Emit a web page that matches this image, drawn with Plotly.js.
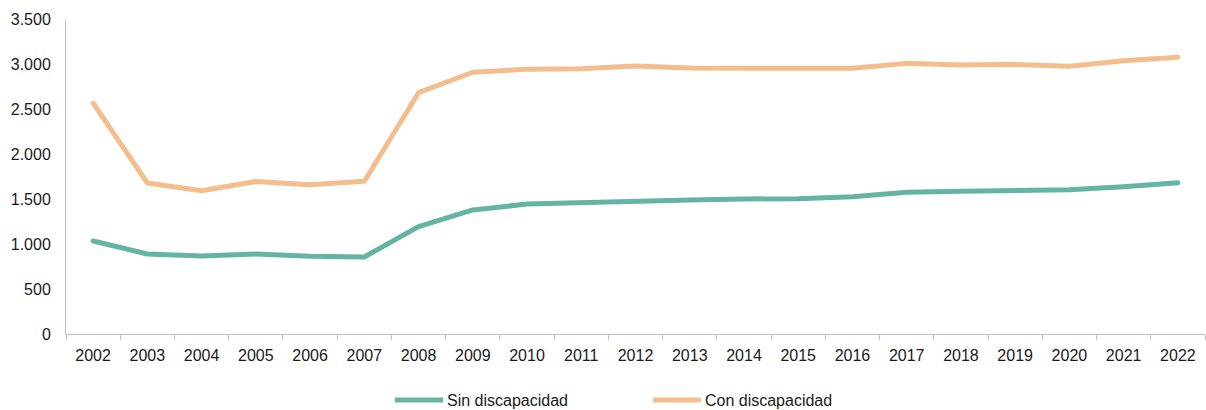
<!DOCTYPE html>
<html>
<head>
<meta charset="utf-8">
<script src="https://cdn.plot.ly/plotly-3.0.1.min.js"></script>
<style>html,body{margin:0;padding:0;background:#fff}#chart{width:1206px;height:410px}
#chart .scatterlayer .js-line{stroke-linecap:round;stroke-linejoin:round}
#chart .legend .legendlines path{transform:scaleX(1.6)}
#chart .legend .legendtext{transform:translateX(20px)}</style>
</head>
<body>
<div id="chart"></div>
<script>
const years = ["2002","2003","2004","2005","2006","2007","2008","2009","2010","2011","2012","2013","2014","2015","2016","2017","2018","2019","2020","2021","2022"];
const sinDiscapacidad = [1033,889,867,889,863,856,1193,1378,1444,1463,1481,1489,1500,1504,1526,1574,1585,1596,1604,1637,1681];
const conDiscapacidad = [2565,1678,1592,1694,1659,1697,2681,2908,2941,2948,2978,2956,2952,2952,2952,3007,2989,2996,2974,3037,3074];
const yTicks = [0,500,1000,1500,2000,2500,3000,3500];

const font = {family: "Liberation Sans, Arial, sans-serif", size: 16, color: "#1a1a1a"};
const traces = [
  {x: years, y: sinDiscapacidad, name: "Sin discapacidad", type: "scatter", mode: "lines",
   line: {color: "#64B4A4", width: 5}},
  {x: years, y: conDiscapacidad, name: "Con discapacidad", type: "scatter", mode: "lines",
   line: {color: "#F4BD8C", width: 5}}
];
const layout = {
  width: 1206, height: 410,
  margin: {l: 66, r: 1, t: 19, b: 76, pad: 0, autoexpand: false},
  paper_bgcolor: "#fff", plot_bgcolor: "#fff",
  separators: ",.",
  font: font,
  showlegend: true,
  legend: {orientation: "h", x: 0.2818, xanchor: "left", xref: "paper",
           y: 10/410, yanchor: "middle", yref: "container",
           font: font, entrywidth: 213, itemwidth: 30, traceorder: "normal"},
  xaxis: {type: "category", range: [-0.5, 20.5], showgrid: false, zeroline: false,
          showline: true, linecolor: "#c0c0c0", linewidth: 1,
          ticks: "outside", tickson: "boundaries", ticklen: 5, tickcolor: "#c0c0c0",
          ticklabelstandoff: 7, tickfont: font, fixedrange: true, automargin: false},
  yaxis: {range: [0, 3500], tickvals: yTicks, tickformat: ",d", showgrid: false, zeroline: false,
          showline: true, linecolor: "#c0c0c0", linewidth: 1, ticks: "",
          ticklabelstandoff: 11, tickfont: font, fixedrange: true, automargin: false}
};
Plotly.newPlot("chart", traces, layout, {displayModeBar: false, staticPlot: true});
</script>
</body>
</html>
